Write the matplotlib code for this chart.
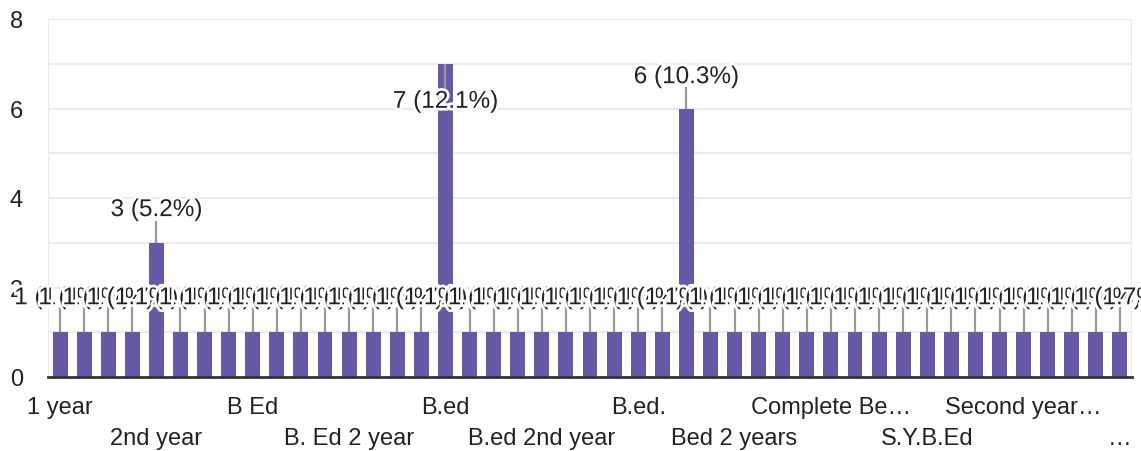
import matplotlib
matplotlib.use("Agg")
import matplotlib.pyplot as plt
import matplotlib.patheffects as pe
import numpy as np

# ---- data ----
values = [1, 1, 1, 1, 3, 1, 1, 1, 1, 1, 1, 1, 1, 1, 1, 1, 7, 1, 1, 1, 1, 1, 1,
          1, 1, 1, 6, 1, 1, 1, 1, 1, 1, 1, 1, 1, 1, 1, 1, 1, 1, 1, 1, 1, 1]
tick_labels = ["1 year", "2nd year", "B Ed", "B. Ed 2 year", "B.ed", "B.ed 2nd year",
               "B.ed.", "Bed 2 years", "Complete Be…", "S.Y.B.Ed", "Second year…", "…"]
tick_step = 4
y_ticks = [0, 2, 4, 6, 8]

plt.rcParams['font.family'] = ['Liberation Sans', 'DejaVu Sans']

BAR = '#6759a5'
TXT = '#222222'
GRID = '#ebebeb'

fig = plt.figure(figsize=(11.41, 4.52), dpi=100)
ax = fig.add_axes([48/1141, 1-378/452, (1132-48)/1141, (378-20)/452])

n = len(values)
x = np.arange(n)
total = sum(values)

ax.set_xlim(-0.5, n - 0.5)
ax.set_ylim(0, 8)

for g in range(1, 9):
    ax.axhline(g, color=GRID, lw=1.6, zorder=0)
ax.axvline(-0.5, color=GRID, lw=1.6, zorder=0)
ax.axvline(n - 0.5, color=GRID, lw=1.6, zorder=0)

ax.bar(x, values, width=0.62, color=BAR, zorder=2)

for s in ['top', 'right', 'left']:
    ax.spines[s].set_visible(False)
ax.spines['bottom'].set_color('#333333')
ax.spines['bottom'].set_linewidth(2)
ax.spines['bottom'].set_zorder(5)

ax.set_yticks(y_ticks)
ax.set_yticklabels([str(t) for t in y_ticks])
ax.tick_params(axis='y', length=0, pad=18, labelsize=17, labelcolor=TXT)

pos = list(range(0, n, tick_step))
labs = [l if i % 2 == 0 else "\n" + l for i, l in enumerate(tick_labels)]
ax.set_xticks(pos)
ax.set_xticklabels(labs)
ax.tick_params(axis='x', length=0, pad=14, labelsize=17, labelcolor=TXT)
for t in ax.get_xticklabels():
    t.set_linespacing(1.5)
    t.set_va('top')

halo = [pe.withStroke(linewidth=4, foreground='white')]

def label_for(v):
    return f"{v} ({v/total*100:.1f}%)"

# leader positions: (line start, line end, text center) in data units
for i, v in enumerate(values):
    if v == 1:
        y0, y1, yt = 1.0, 1.56, 1.76
    elif v == 3:
        y0, y1, yt = 3.0, 3.49, 3.73
    elif v == 7:
        y0, y1, yt = 7.0, 6.4, 6.15
    else:
        y0, y1, yt = 6.0, 6.48, 6.7
    ax.plot([i, i], [y0, y1], color='#999999', lw=1.6, zorder=3,
            solid_capstyle='butt')
    ax.text(i, yt, label_for(v), ha='center', va='center', fontsize=17.5,
            color=TXT, zorder=4 + i * 0.01, path_effects=halo, clip_on=False)

fig.savefig("out.png", dpi=100)
